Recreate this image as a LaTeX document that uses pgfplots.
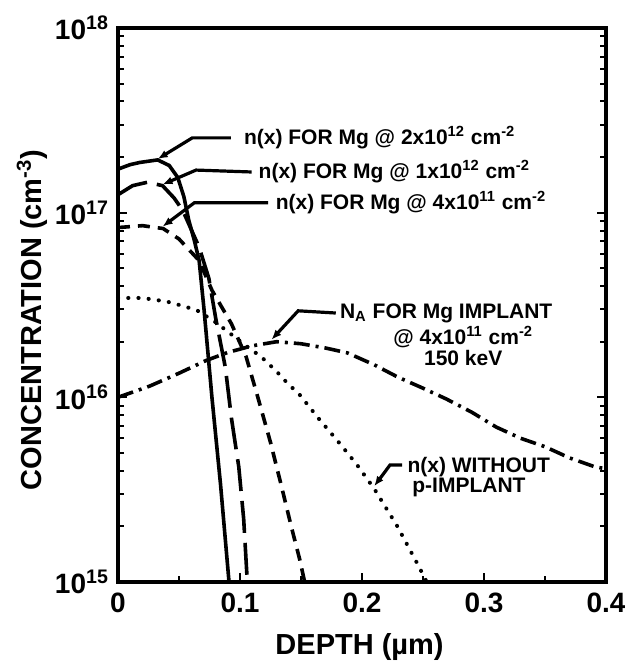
\documentclass[border=0pt]{standalone}
\usepackage{pgfplots}
\pgfplotsset{compat=1.18}
\usepackage{fontspec}
\setmainfont{Liberation Sans}
\usetikzlibrary{arrows.meta}
\begin{document}
\begin{tikzpicture}
\begin{axis}[
  scale only axis,
  width=244pt, height=277pt,
  ymode=log,
  xmin=0, xmax=0.4, ymin=1e15, ymax=1e18,
  xtick={0,0.1,0.2,0.3,0.4},
  xticklabels={0,0.1,0.2,0.3,0.4},
  minor x tick num=1,
  ytick={1e15,1e16,1e17,1e18},
  yticklabels={10\textsuperscript{15},10\textsuperscript{16},10\textsuperscript{17},10\textsuperscript{18}},
  xtick pos=bottom,
  tick align=inside,
  major tick length=4.5pt, minor tick length=3pt,
  every tick/.style={line width=1pt, black},
  axis line style={line width=1.6pt},
  tick label style={font=\fontsize{14}{16}\selectfont\bfseries},
  xticklabel style={yshift=-2pt},
  yticklabel style={xshift=-1pt},
  /pgf/number format/assume math mode=true,
  xlabel={DEPTH (\textmu m)},
  ylabel={CONCENTRATION (cm\textsuperscript{-3})},
  label style={font=\fontsize{14.5}{16}\selectfont\bfseries},
  xlabel style={at={(rel axis cs:0.495,0)}, anchor=center, yshift=-32.5pt},
  ylabel style={at={(rel axis cs:0,0.473)}, anchor=center, yshift=43pt},
  clip=false,
]
\coordinate (sw) at (rel axis cs:0,0);
\coordinate (ne) at (rel axis cs:1,1);
% n(x) for Mg @ 2e12 (solid)
\addplot[line width=1.8pt] coordinates {
(0,1.72e17) (0.01,1.82e17) (0.018,1.87e17) (0.0325,1.93e17) (0.042,1.80e17)
(0.049,1.55e17) (0.054,1.22e17) (0.058,9.1e16) (0.0625,7.1e16) (0.0665,5.5e16)
(0.0705,3.0e16) (0.077,1.0e16) (0.084,3.4e15) (0.091,1.0e15)};
% n(x) for Mg @ 1e12 (long dash)
\addplot[line width=1.8pt, dash pattern=on 16pt off 5pt] coordinates {
(0,1.25e17) (0.012,1.40e17) (0.024,1.46e17) (0.0365,1.40e17) (0.046,1.20e17)
(0.053,1.03e17) (0.0665,6.5e16) (0.0745,4.4e16) (0.080,2.7e16) (0.088,1.45e16)
(0.093,7.7e15) (0.099,4.2e15) (0.103,2.2e15) (0.106,1.0e15)};
% n(x) for Mg @ 4e11 (short dash)
\addplot[line width=1.8pt, dash pattern=on 6pt off 4pt] coordinates {
(0,8.3e16) (0.02,8.5e16) (0.037,8.2e16) (0.05,7.2e16) (0.0665,5.5e16)
(0.077,3.8e16) (0.093,2.5e16) (0.105,1.66e16) (0.115,9.8e15) (0.125,5.7e15)
(0.134,3.3e15) (0.142,2.0e15) (0.149,1.32e15) (0.153,1.0e15)};
% n(x) without p-implant (dotted)
\addplot[line width=2pt, line cap=round, dash pattern=on 0.1pt off 5pt] coordinates {
(0,3.45e16) (0.02,3.45e16) (0.04,3.3e16) (0.055,3.1e16) (0.065,2.95e16)
(0.08,2.55e16) (0.0925,2.2e16) (0.105,1.9e16) (0.1177,1.65e16) (0.13,1.38e16)
(0.14,1.17e16) (0.148,1.05e16) (0.165,7.6e15) (0.182,5.6e15) (0.196,4.3e15)
(0.21,3.2e15) (0.229,2.0e15) (0.247,1.2e15) (0.253,1.0e15)};
% N_A for Mg implant (dash-dot)
\addplot[line width=1.8pt, dash pattern=on 8pt off 3pt on 1.5pt off 3pt] coordinates {
(0,1.0e16) (0.026,1.15e16) (0.05,1.35e16) (0.072,1.58e16) (0.09,1.75e16)
(0.11,1.9e16) (0.13,2.0e16) (0.15,1.95e16) (0.17,1.85e16) (0.188,1.74e16)
(0.21,1.5e16) (0.229,1.29e16) (0.25,1.12e16) (0.269,9.8e15) (0.29,8.3e15)
(0.31,6.9e15) (0.33,6.0e15) (0.35,5.4e15) (0.37,4.7e15) (0.391,4.2e15) (0.4,4.1e15)};
% annotations
\tikzset{ann/.style={font=\fontsize{10.5}{12.5}\selectfont\bfseries, inner sep=0pt},
         lead/.style={line width=1.6pt, -{Latex[length=5pt,width=4pt]}}}
\node[ann, anchor=west] at (axis cs:0.103,2.54e17) {n(x) FOR Mg @ 2x10\textsuperscript{12} cm\textsuperscript{-2}};
\draw[lead] (axis cs:0.0925,2.54e17) -- (axis cs:0.0609,2.54e17) -- (axis cs:0.0325,1.95e17);
\node[ann, anchor=west] at (axis cs:0.115,1.66e17) {n(x) FOR Mg @ 1x10\textsuperscript{12} cm\textsuperscript{-2}};
\draw[lead] (axis cs:0.1095,1.66e17) -- (axis cs:0.064,1.70e17) -- (axis cs:0.0365,1.42e17);
\node[ann, anchor=west] at (axis cs:0.129,1.13e17) {n(x) FOR Mg @ 4x10\textsuperscript{11} cm\textsuperscript{-2}};
\draw[lead] (axis cs:0.123,1.13e17) -- (axis cs:0.0625,1.13e17) -- (axis cs:0.0365,8.4e16);
\node[ann, anchor=west] at (axis cs:0.1817,2.86e16) {N\textsubscript{A} FOR Mg IMPLANT};
\node[ann, anchor=center] at (axis cs:0.283,2.12e16) {@ 4x10\textsuperscript{11} cm\textsuperscript{-2}};
\node[ann, anchor=center] at (axis cs:0.283,1.63e16) {150 keV};
\draw[lead] (axis cs:0.1785,2.86e16) -- (axis cs:0.1477,2.94e16) -- (axis cs:0.1258,2.05e16);
\node[ann, anchor=west] at (axis cs:0.237,4.2e15) {n(x) WITHOUT};
\node[ann, anchor=west] at (axis cs:0.241,3.23e15) {p-IMPLANT};
\draw[lead] (axis cs:0.2329,4.3e15) -- (axis cs:0.223,4.3e15) -- (axis cs:0.210,3.3e15);
\end{axis}
\pgfresetboundingbox
\path[use as bounding box] ([shift={(-59pt,-43.5pt)}]sw) rectangle ([shift={(9.5pt,14pt)}]ne);
\end{tikzpicture}
\end{document}
